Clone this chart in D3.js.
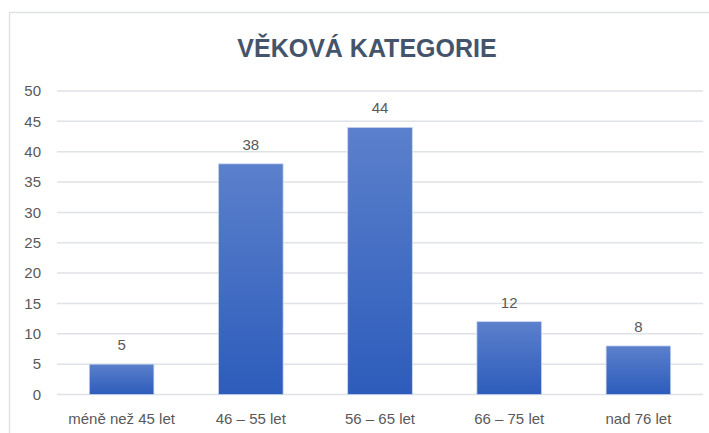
<!DOCTYPE html>
<html>
<head>
<meta charset="utf-8">
<script src="https://cdn.jsdelivr.net/npm/d3@7"></script>
<style>
  body { margin: 0; background: #fff; }
  svg { display: block; font-family: "Liberation Sans Narrow", "Liberation Sans", Arial, sans-serif; }
</style>
</head>
<body>
<svg id="chart"></svg>
<script>
// age categories and counts
const categories = ['méně než 45 let', '46 – 55 let', '56 – 65 let', '66 – 75 let', 'nad 76 let'];
const counts = [5, 38, 44, 12, 8];
const yTicks = [0, 5, 10, 15, 20, 25, 30, 35, 40, 45, 50];

const width = 709, height = 433;
const margin = { top: 91, right: 6, bottom: 38, left: 57 };

const svg = d3.select('#chart')
    .attr('width', width)
    .attr('height', height);

// gradient for the bars (light on top, darker at the bottom)
const grad = svg.append('defs').append('linearGradient')
    .attr('id', 'barGrad')
    .attr('x1', 0).attr('y1', 0).attr('x2', 0).attr('y2', 1);
grad.append('stop').attr('offset', '0%').attr('stop-color', '#5b80cc');
grad.append('stop').attr('offset', '100%').attr('stop-color', '#2d5cbb');

// chart frame
svg.append('rect')
    .attr('x', 9.5).attr('y', 12.5)
    .attr('width', width + 10).attr('height', height)
    .attr('fill', 'none')
    .attr('stroke', '#dde1e6')
    .attr('stroke-width', 1.5);

const x = d3.scaleBand()
    .domain(categories)
    .range([margin.left, width - margin.right])
    .paddingInner(0.5)
    .paddingOuter(0.25);

const y = d3.scaleLinear()
    .domain([0, 50])
    .range([height - margin.bottom - 0.5, margin.top]);

// gridlines
svg.append('g')
    .selectAll('line')
    .data(yTicks)
    .join('line')
    .attr('x1', margin.left)
    .attr('x2', width - margin.right)
    .attr('y1', d => y(d))
    .attr('y2', d => y(d))
    .attr('stroke', '#dfe2e7')
    .attr('stroke-width', 1.5);

// y axis labels
const yAxis = svg.append('g')
    .attr('transform', `translate(${margin.left - 16},0)`)
    .call(d3.axisLeft(y).tickValues(yTicks).tickSize(0).tickPadding(0));
yAxis.select('.domain').remove();
yAxis.selectAll('text')
    .style('font-size', '15px')
    .style('font-family', 'inherit')
    .attr('fill', '#595959');

// x axis labels
const xAxis = svg.append('g')
    .attr('transform', `translate(0,${y(0)})`)
    .call(d3.axisBottom(x).tickSize(0).tickPadding(19));
xAxis.select('.domain').remove();
xAxis.selectAll('text')
    .style('font-size', '15px')
    .style('font-family', 'inherit')
    .attr('fill', '#595959');

// bars
svg.append('g')
    .selectAll('rect')
    .data(counts)
    .join('rect')
    .attr('x', (d, i) => x(categories[i]))
    .attr('y', d => y(d))
    .attr('width', x.bandwidth())
    .attr('height', d => y(0) - y(d))
    .attr('fill', 'url(#barGrad)')
    .attr('stroke', '#c9d5ee')
    .attr('stroke-width', 0.75);

// value labels
svg.append('g')
    .selectAll('text')
    .data(counts)
    .join('text')
    .attr('x', (d, i) => x(categories[i]) + x.bandwidth() / 2)
    .attr('y', d => y(d) - 14)
    .attr('text-anchor', 'middle')
    .style('font-size', '15px')
    .attr('fill', '#595959')
    .text(d => d);

// title
svg.append('text')
    .attr('x', 367)
    .attr('y', 57)
    .attr('text-anchor', 'middle')
    .style('font-size', '25px')
    .style('font-weight', 'bold')
    .attr('fill', '#44546a')
    .text('VĚKOVÁ KATEGORIE');
</script>
</body>
</html>
